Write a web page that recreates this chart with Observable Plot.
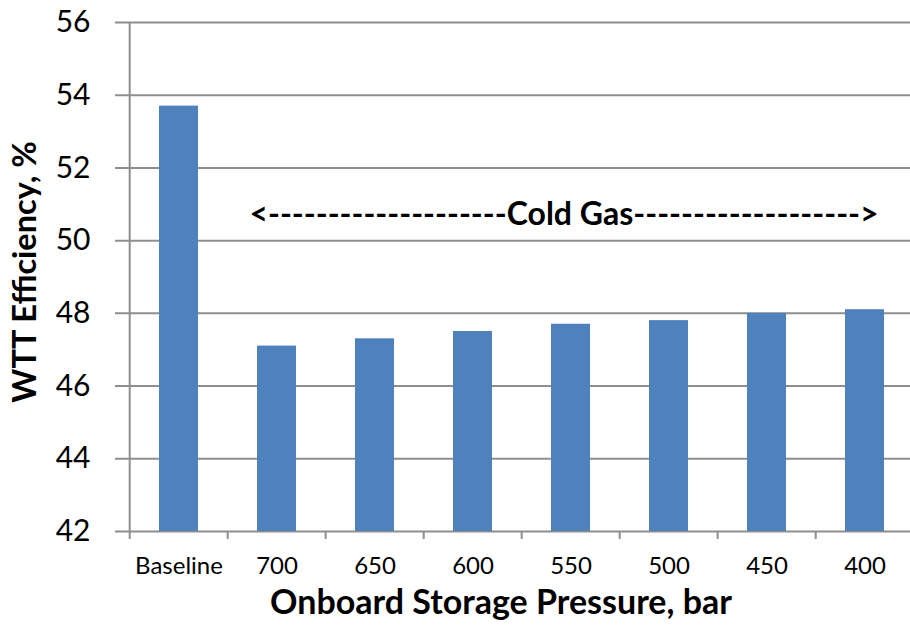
<!DOCTYPE html>
<html>
<head>
<meta charset="utf-8">
<script src="https://cdn.jsdelivr.net/npm/d3@7"></script>
<script src="https://cdn.jsdelivr.net/npm/@observablehq/plot@0.6"></script>
<style>
  html, body { margin: 0; padding: 0; background: #fff; }
  #chart svg { display: block; }
</style>
</head>
<body>
<div id="chart"></div>
<script>
const categories = ["Baseline", "700", "650", "600", "550", "500", "450", "400"];
const efficiency = [53.7, 47.1, 47.3, 47.5, 47.7, 47.8, 48.0, 48.1];
const yTicks = [42, 44, 46, 48, 50, 52, 54, 56];
const xTitle = "Onboard Storage Pressure, bar";
const yTitle = "WTT Efficiency, %";
const annotation = [{label: "<--------------------Cold Gas------------------->", x: "550", y: 50.7}];

const data = categories.map((c, i) => ({category: c, value: efficiency[i]}));

const W = 910, H = 626;
const xRange = [127, 916];
const step = (xRange[1] - xRange[0]) / categories.length;
const font = "Lato, 'Open Sans', sans-serif";
const grid = "#8e8e8e";

const chart = Plot.plot({
  width: W,
  height: H,
  marginLeft: 127,
  marginRight: 0,
  marginTop: 22,
  marginBottom: 95,
  style: {fontFamily: font, color: "#000", background: "#fff"},
  x: {domain: categories, range: xRange, paddingInner: 0.6, paddingOuter: 0.3, label: null},
  y: {domain: [42, 56], label: null},
  marks: [
    Plot.ruleY(yTicks, {y: d => d, stroke: grid, strokeWidth: 2, insetLeft: -12}),
    Plot.ruleX([categories[0]], {x: d => d, dx: -step / 2, y1: 42, y2: 56, stroke: grid, strokeWidth: 2}),
    Plot.axisX({tickSize: 8, dx: -step / 2, tickFormat: () => "", stroke: grid, strokeWidth: 2, strokeOpacity: 1, label: null}),
    Plot.barY(data, {x: "category", y1: 42, y2: "value", fill: "#4F81BD"}),
    Plot.axisY({ticks: yTicks, tickSize: 0, tickPadding: 37, fontSize: 30, label: null}),
    Plot.axisX({tickSize: 0, tickPadding: 25, fontSize: 24, label: null}),
    Plot.text([xTitle], {frameAnchor: "bottom", dy: 72, dx: -18, fontSize: 34, fontWeight: "bold", lineAnchor: "middle"}),
    Plot.text([yTitle], {frameAnchor: "left", dx: -102, dy: -5, rotate: -90, textAnchor: "middle", fontSize: 32.5, fontWeight: "bold", lineAnchor: "middle"}),
    Plot.text(annotation, {x: "x", y: "y", text: "label", dx: -7, fontSize: 32, fontWeight: "bold", lineAnchor: "middle"})
  ]
});
document.getElementById("chart").appendChild(chart);
</script>
</body>
</html>
